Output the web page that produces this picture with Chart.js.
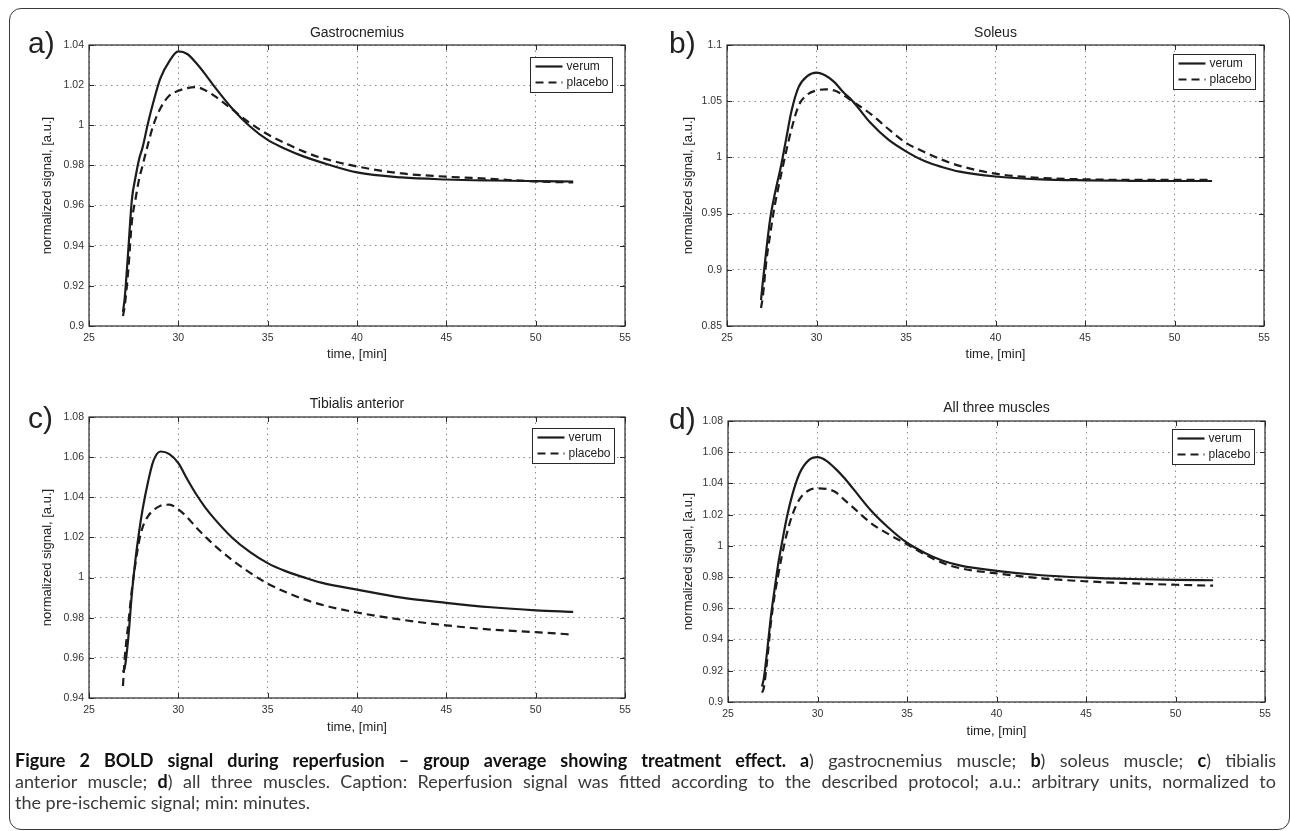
<!DOCTYPE html>
<html>
<head>
<meta charset="utf-8">
<script src="https://cdn.jsdelivr.net/npm/chart.js@4.4.1/dist/chart.umd.min.js"></script>
<style>
  body { margin: 0; background: #fff; width: 1290px; height: 831px; position: relative; overflow: hidden;
         font-family: "Liberation Sans", Arial, sans-serif; }
  #frame { position: absolute; left: 9px; top: 8px; width: 1281px; height: 822px; box-sizing: border-box;
           border: 1.5px solid #3a3a3a; border-radius: 12px; }
  canvas { position: absolute; }
  .tag { position: absolute; font-size: 30px; line-height: 30px; color: #222; }
  #caption { position: absolute; left: 15px; top: 750px; width: 1261px; font-family: Lato, "Noto Sans", sans-serif;
             font-size: 18px; line-height: 21px; color: #3a3a3a; }
  #caption b { color: #111; }
  .j { text-align: justify; text-align-last: justify; }
</style>
</head>
<body>
<div id="frame"></div>
<canvas id="pa"></canvas>
<canvas id="pb"></canvas>
<canvas id="pc"></canvas>
<canvas id="pd"></canvas>
<div class="tag" style="left:28px;top:28px">a)</div>
<div class="tag" style="left:669px;top:28px">b)</div>
<div class="tag" style="left:28px;top:403px">c)</div>
<div class="tag" style="left:669px;top:404px">d)</div>
<div id="caption">
  <div class="j"><b>Figure 2 BOLD signal during reperfusion – group average showing treatment effect. a</b>) gastrocnemius muscle; <b>b</b>) soleus muscle; <b>c</b>) tibialis</div>
  <div class="j">anterior muscle; <b>d</b>) all three muscles. Caption: Reperfusion signal was fitted according to the described protocol; a.u.: arbitrary units, normalized to</div>
  <div>the pre-ischemic signal; min: minutes.</div>
</div>

<script>
// time axis shared by every curve (minutes)
const times = [26.9, 27.0, 27.2, 27.4, 27.6, 27.8, 28.0, 28.3, 28.6, 29.0, 29.5, 30.0, 30.5, 31.0,
               31.5, 32.0, 33.0, 34.0, 35.0, 36.0, 37.0, 38.0, 40.0, 42.5, 45.0, 47.5, 50.0, 52.1];

const seriesNames = ["verum", "placebo"];
const panelTitles = ["Gastrocnemius", "Soleus", "Tibialis anterior", "All three muscles"];
const xTitle = "time, [min]";
const yTitle = "normalized signal, [a.u.]";

// a) gastrocnemius
const verumA = [0.907, 0.914, 0.938, 0.963, 0.974, 0.983, 0.989, 1.001, 1.0115, 1.0235, 1.032, 1.0368, 1.0355, 1.031,
                1.0255, 1.0195, 1.0085, 0.9995, 0.9927, 0.9882, 0.9845, 0.9815, 0.9765, 0.974, 0.973, 0.9725, 0.9722, 0.972];
const placeboA = [0.905, 0.910, 0.928, 0.952, 0.963, 0.973, 0.980, 0.9905, 1.0, 1.0085, 1.0148, 1.0172, 1.0185, 1.019,
                  1.0175, 1.0148, 1.008, 1.0012, 0.9955, 0.991, 0.987, 0.9838, 0.9795, 0.976, 0.9744, 0.9733, 0.972, 0.9715];
// b) soleus
const verumB = [0.873, 0.889, 0.918, 0.944, 0.962, 0.977, 0.991, 1.016, 1.041, 1.0625, 1.0725, 1.0754, 1.0728, 1.067,
                1.058, 1.0505, 1.031, 1.016, 1.0054, 0.997, 0.9915, 0.9873, 0.983, 0.9805, 0.9796, 0.9792, 0.979, 0.979];
const placeboB = [0.866, 0.876, 0.908, 0.930, 0.951, 0.968, 0.983, 1.005, 1.025, 1.046, 1.056, 1.0595, 1.0605, 1.0595,
                  1.0555, 1.050, 1.039, 1.0255, 1.013, 1.005, 0.998, 0.9925, 0.9855, 0.9818, 0.9805, 0.980, 0.980, 0.980];
// c) tibialis anterior
const verumC = [0.953, 0.955, 0.970, 0.992, 1.009, 1.0225, 1.034, 1.0475, 1.058, 1.0628, 1.0615, 1.057, 1.049, 1.0415,
                1.035, 1.0295, 1.020, 1.0128, 1.0072, 1.0032, 1.0002, 0.9975, 0.994, 0.990, 0.9874, 0.9852, 0.9837, 0.9829];
const placeboC = [0.946, 0.960, 0.977, 0.994, 1.007, 1.018, 1.025, 1.0305, 1.0335, 1.0358, 1.0363, 1.034, 1.030, 1.025,
                  1.0205, 1.0162, 1.0088, 1.0025, 0.997, 0.9928, 0.9893, 0.9865, 0.9826, 0.979, 0.9762, 0.9741, 0.9728, 0.9716];
// d) all three muscles
const verumD = [0.910, 0.915, 0.934, 0.955, 0.972, 0.988, 1.001, 1.019, 1.033, 1.0465, 1.0548, 1.0568, 1.0545, 1.0495,
                1.0435, 1.0365, 1.0225, 1.0113, 1.002, 0.9955, 0.9905, 0.9874, 0.984, 0.9812, 0.9797, 0.9788, 0.9782, 0.978];
const placeboD = [0.906, 0.909, 0.928, 0.951, 0.968, 0.981, 0.993, 1.0085, 1.020, 1.030, 1.0355, 1.0368, 1.0365, 1.0345,
                  1.0295, 1.0245, 1.0145, 1.0073, 1.001, 0.9945, 0.989, 0.9856, 0.9824, 0.9792, 0.9773, 0.976, 0.9751, 0.9745];

// axis ranges [min, max, step]
const xRange = [25, 55, 5];
const yRangeA = [0.9, 1.04, 0.02];
const yRangeB = [0.85, 1.1, 0.05];
const yRangeC = [0.94, 1.08, 0.02];
const yRangeD = [0.9, 1.08, 0.02];

const FONT = "'Liberation Sans', Arial, sans-serif";
Chart.defaults.font.family = FONT;

// matlab-ish box, inward ticks, title and legend
const matlabBox = {
  id: "matlabBox",
  afterDraw(chart, args, opts) {
    const ctx = chart.ctx, ca = chart.chartArea;
    const xs = chart.scales.x, ys = chart.scales.y;
    ctx.save();
    ctx.strokeStyle = "#2a2a2a";
    ctx.lineWidth = 1.2;
    ctx.setLineDash([]);
    ctx.strokeRect(ca.left, ca.top, ca.right - ca.left, ca.bottom - ca.top);
    ctx.lineWidth = 1;
    ctx.beginPath();
    xs.ticks.forEach(t => {
      const px = Math.round(xs.getPixelForValue(t.value)) + 0.5;
      ctx.moveTo(px, ca.bottom); ctx.lineTo(px, ca.bottom - 5);
      ctx.moveTo(px, ca.top); ctx.lineTo(px, ca.top + 5);
    });
    ys.ticks.forEach(t => {
      const py = Math.round(ys.getPixelForValue(t.value)) + 0.5;
      ctx.moveTo(ca.left, py); ctx.lineTo(ca.left + 5, py);
      ctx.moveTo(ca.right, py); ctx.lineTo(ca.right - 5, py);
    });
    ctx.stroke();

    // panel title
    ctx.fillStyle = "#222";
    ctx.font = "14px " + FONT;
    ctx.textAlign = "center";
    ctx.textBaseline = "middle";
    ctx.fillText(opts.title, (ca.left + ca.right) / 2, ca.top - opts.titleGap);

    // legend
    const bw = 82, bh = 35;
    const bx = Math.round(ca.right - opts.legendRight - bw) + 0.5;
    const by = Math.round(ca.top + opts.legendTop) + 0.5;
    ctx.fillStyle = "#fff";
    ctx.fillRect(bx, by, bw, bh);
    ctx.strokeStyle = "#2a2a2a";
    ctx.lineWidth = 1;
    ctx.strokeRect(bx, by, bw, bh);
    ctx.font = "12px " + FONT;
    ctx.textAlign = "left";
    chart.data.datasets.forEach((ds, i) => {
      const yy = by + 9 + i * 16;
      ctx.strokeStyle = ds.borderColor;
      ctx.lineWidth = ds.borderWidth;
      ctx.setLineDash(ds.borderDash || []);
      ctx.beginPath();
      ctx.moveTo(bx + 5, yy); ctx.lineTo(bx + 32, yy);
      ctx.stroke();
      ctx.fillStyle = "#222";
      ctx.fillText(ds.label, bx + 36, yy);
    });
    ctx.restore();
  }
};

function makePanel(id, p) {
  const cv = document.getElementById(id);
  cv.width = p.w; cv.height = p.h;
  cv.style.left = p.left + "px"; cv.style.top = p.top + "px";
  const L = p.plot[0] - p.left, T = p.plot[1] - p.top, R = p.plot[2] - p.left, B = p.plot[3] - p.top;
  const titleHalf = 13 * 1.2 / 2;

  new Chart(cv, {
    type: "line",
    data: {
      datasets: [
        {
          label: seriesNames[0],
          data: times.map((t, i) => ({ x: t, y: p.verum[i] })),
          borderColor: "#1c1c1c",
          borderWidth: 2.2,
          pointRadius: 0,
          cubicInterpolationMode: "monotone",
          fill: false,
        },
        {
          label: seriesNames[1],
          data: times.map((t, i) => ({ x: t, y: p.placebo[i] })),
          borderColor: "#1c1c1c",
          borderWidth: 2.2,
          borderDash: [8, 5],
          pointRadius: 0,
          cubicInterpolationMode: "monotone",
          fill: false,
        },
      ],
    },
    options: {
      responsive: false,
      animation: false,
      devicePixelRatio: 1,
      layout: { padding: { top: T, right: p.w - R, left: 0, bottom: 0 } },
      plugins: {
        legend: { display: false },
        tooltip: { enabled: false },
        matlabBox: { title: p.title, titleGap: p.titleGap, legendRight: p.legend[0], legendTop: p.legend[1] },
      },
      scales: {
        x: {
          type: "linear",
          min: xRange[0],
          max: xRange[1],
          ticks: { stepSize: xRange[2], padding: 6, color: "#333", font: { size: 10.5 }, maxRotation: 0 },
          grid: { color: "#8a8a8a", lineWidth: 1, drawTicks: false },
          border: { display: false, dash: [1.5, 4] },
          title: { display: true, text: xTitle, color: "#222", font: { size: 13 },
                   padding: { top: 0, bottom: p.h - (p.xTitleY - p.top) - titleHalf } },
          afterFit: s => { s.height = p.h - B; },
        },
        y: {
          type: "linear",
          min: p.y[0],
          max: p.y[1],
          ticks: { stepSize: p.y[2], padding: 5, color: "#333", font: { size: 10.5 },
                   callback: v => String(+v.toFixed(3)) },
          grid: { color: "#8a8a8a", lineWidth: 1, drawTicks: false },
          border: { display: false, dash: [1.5, 4] },
          title: { display: true, text: yTitle, color: "#222", font: { size: 13 },
                   padding: { top: (p.yTitleX - p.left) - titleHalf, bottom: 0 } },
          afterFit: s => { s.width = L; },
        },
      },
    },
    plugins: [matlabBox],
  });
}

makePanel("pa", { left: 0, top: 0, w: 645, h: 372, plot: [89, 45, 625, 326], yTitleX: 47, xTitleY: 354,
                  title: panelTitles[0], titleGap: 12, legend: [13, 12], y: yRangeA, verum: verumA, placebo: placeboA });
makePanel("pb", { left: 645, top: 0, w: 645, h: 372, plot: [727, 45, 1264, 326], yTitleX: 688, xTitleY: 354,
                  title: panelTitles[1], titleGap: 12, legend: [9, 9], y: yRangeB, verum: verumB, placebo: placeboB });
makePanel("pc", { left: 0, top: 372, w: 645, h: 385, plot: [89, 417, 625, 698], yTitleX: 47, xTitleY: 727,
                  title: panelTitles[2], titleGap: 13, legend: [11, 11], y: yRangeC, verum: verumC, placebo: placeboC });
makePanel("pd", { left: 645, top: 372, w: 645, h: 385, plot: [728, 421, 1265, 702], yTitleX: 688, xTitleY: 731,
                  title: panelTitles[3], titleGap: 13, legend: [11, 8], y: yRangeD, verum: verumD, placebo: placeboD });
</script>
</body>
</html>
